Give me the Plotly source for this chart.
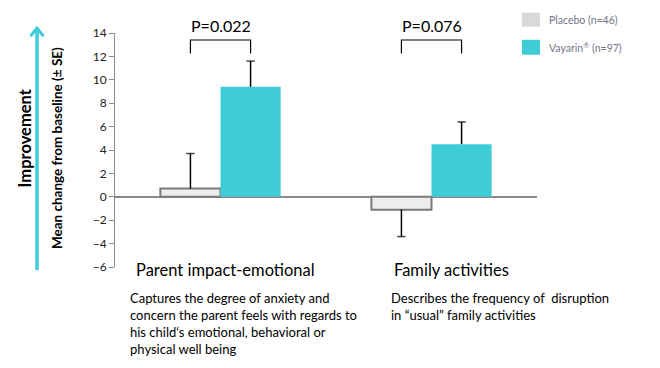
import plotly.graph_objects as go

categories = ["Parent impact-emotional", "Family activities"]
placebo = [0.7, -1.1]
placebo_err = [3.0, -2.3]   # one-sided error (sign = direction)
vayarin = [9.4, 4.5]
vayarin_err = [2.2, 1.9]
p_values = ["P=0.022", "P=0.076"]
descriptions = [
    "Captures the degree of anxiety and<br>concern the parent feels with regards to<br>his child‘s emotional, behavioral or<br>physical well being",
    "Describes the frequency of  disruption<br>in “usual” family activities",
]
legend_names = ["Placebo (n=46)", "Vayarin<sup>®</sup> (n=97)"]
y_ticks = list(range(-6, 16, 2))

CYAN = "#3ECDD6"
GREY_FILL = "#EDEDED"
FONT = "Lato"

bargap = 0.43
bar_w = (1 - bargap) / 2
xs = list(range(len(categories)))

fig = go.Figure()
fig.add_bar(x=xs, y=placebo, name="Placebo",
            marker=dict(color=GREY_FILL, line=dict(color="#7a7a7a", width=2)))
fig.add_bar(x=xs, y=vayarin, name="Vayarin",
            marker=dict(color=CYAN, line=dict(width=0)))

# one-sided error bars drawn from each bar end
ex, ey, sizes = [], [], []
for vals, errs, off in [(placebo, placebo_err, -bar_w / 2), (vayarin, vayarin_err, bar_w / 2)]:
    for x, v, e in zip(xs, vals, errs):
        ex += [x + off, x + off, None]
        ey += [v, v + e, None]
        sizes += [0, 6, 0]
fig.add_scatter(x=ex, y=ey, mode="lines+markers", line=dict(color="black", width=1.5),
                marker=dict(symbol="line-ew", size=sizes, line=dict(color="black", width=1.5)),
                hoverinfo="skip", cliponaxis=False)

shapes = []
annotations = []
for i, x in enumerate(xs):
    x0 = x - bar_w / 2
    x1 = x + bar_w / 2
    shapes.append(dict(type="path", xref="x", yref="y",
                       path=f"M {x0},12.25 L {x0},13.4 L {x1},13.4 L {x1},12.25",
                       line=dict(color="black", width=1.2)))
    annotations.append(dict(x=x, y=1.031, xref="x", yref="paper", text=p_values[i],
                            showarrow=False, xanchor="center", yanchor="middle",
                            font=dict(family=FONT, size=16, color="black")))

# category labels
cat_x = [0.022, 1.097]
for i, c in enumerate(categories):
    annotations.append(dict(x=cat_x[i], y=-0.013, xref="x", yref="paper", text=c,
                            showarrow=False, xanchor="center", yanchor="middle",
                            font=dict(family=FONT, size=16.5, color="black")))
desc_x = [-0.44, 0.80]
for i, d in enumerate(descriptions):
    annotations.append(dict(x=desc_x[i], y=-0.088, xref="x", yref="paper", text=d,
                            showarrow=False, xanchor="left", yanchor="top", align="left",
                            font=dict(family=FONT, size=13, color="black")))

# improvement arrow (line + open chevron head)
ax_x = -0.1848
shapes.append(dict(type="line", xref="paper", yref="paper", x0=ax_x, x1=ax_x,
                   y0=-0.013, y1=1.018, line=dict(color=CYAN, width=3.5)))
shapes.append(dict(type="path", xref="paper", yref="paper",
                   path=f"M {ax_x-0.0155},0.986 L {ax_x},1.021 L {ax_x+0.0155},0.986",
                   line=dict(color=CYAN, width=3)))
annotations.append(dict(x=-0.213, y=0.55, xref="paper", yref="paper", text="<b>Improvement</b>",
                        textangle=-90, showarrow=False, xanchor="center", yanchor="middle",
                        font=dict(family=FONT, size=16.5, color="black")))
annotations.append(dict(x=-0.137, y=0.509, xref="paper", yref="paper",
                        text="<b>Mean change from baseline (± SE)</b>",
                        textangle=-90, showarrow=False, xanchor="center", yanchor="middle",
                        font=dict(family=FONT, size=13.5, color="black")))

# legend
leg_colors = ["#D9D9D9", CYAN]
leg_y = [(1.087, 1.027), (0.971, 0.907)]
for i, n in enumerate(legend_names):
    shapes.append(dict(type="rect", xref="paper", yref="paper", x0=0.9645, x1=1.007,
                       y0=leg_y[i][1], y1=leg_y[i][0], fillcolor=leg_colors[i],
                       line=dict(width=0)))
    annotations.append(dict(x=1.024, y=(leg_y[i][0] + leg_y[i][1]) / 2, xref="paper",
                            yref="paper", text=n, showarrow=False, xanchor="left",
                            yanchor="middle",
                            font=dict(family=FONT, size=10.5, color="#75758a")))

fig.update_layout(
    width=652, height=360,
    margin=dict(l=107, r=123, t=25, b=101),
    paper_bgcolor="white", plot_bgcolor="white",
    barmode="group", bargap=bargap, bargroupgap=0,
    showlegend=False,
    shapes=shapes, annotations=annotations,
    xaxis=dict(range=[-0.5, 1.5], showticklabels=False, showgrid=False,
               zeroline=False, showline=False, ticks=""),
    yaxis=dict(range=[-6, 14], tickvals=y_ticks, showgrid=False,
               zeroline=True, zerolinecolor="#8a8a8a", zerolinewidth=1.5,
               showline=True, linecolor="#8a8a8a", linewidth=1,
               ticks="outside", ticklen=5, tickcolor="#8a8a8a",
               tickfont=dict(family=FONT, size=12, color="#222")),
)
fig.write_html("out.html")
